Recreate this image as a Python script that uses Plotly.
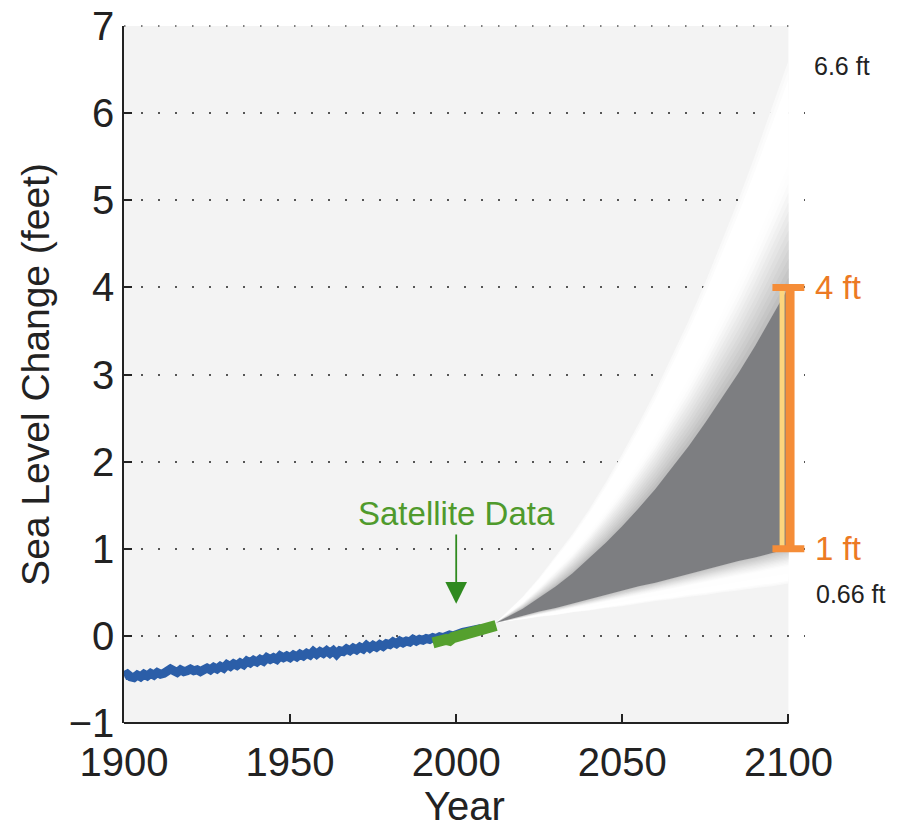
import numpy as np
import plotly.graph_objects as go

# ---------------- data ----------------
tide_years = list(range(1900, 2011))
tide_level = [
    -0.46, -0.44, -0.47, -0.48, -0.45, -0.47, -0.44, -0.46, -0.43, -0.45,
    -0.42, -0.44, -0.43, -0.41, -0.38, -0.40, -0.42, -0.39, -0.41, -0.40,
    -0.38, -0.40, -0.39, -0.41, -0.38, -0.37, -0.39, -0.36, -0.38, -0.35,
    -0.37, -0.33, -0.35, -0.32, -0.34, -0.31, -0.33, -0.29, -0.31, -0.28,
    -0.30, -0.27, -0.29, -0.25, -0.27, -0.25, -0.27, -0.23, -0.25, -0.23,
    -0.25, -0.22, -0.24, -0.21, -0.23, -0.20, -0.22, -0.18, -0.21, -0.18,
    -0.20, -0.17, -0.20, -0.17, -0.21, -0.17, -0.18, -0.15, -0.17, -0.14,
    -0.16, -0.13, -0.15, -0.11, -0.14, -0.11, -0.13, -0.10, -0.12, -0.09,
    -0.10, -0.07, -0.09, -0.06, -0.08, -0.06, -0.07, -0.04, -0.06, -0.04,
    -0.05, -0.03, -0.04, -0.02, -0.03, -0.01, -0.02, 0.00, 0.01, 0.00,
    0.02, 0.03, 0.04, 0.05, 0.06, 0.05, 0.07, 0.08, 0.07, 0.09, 0.10,
]

sat_years = list(range(1993, 2013))
sat_level = [
    -0.08, -0.06, -0.07, -0.05, -0.04, -0.05, -0.02, -0.01, -0.02, 0.01,
    0.02, 0.01, 0.04, 0.05, 0.04, 0.07, 0.06, 0.09, 0.10, 0.12,
]

proj_years = [2012, 2015, 2020, 2025, 2030, 2035, 2040, 2045, 2050, 2055,
              2060, 2065, 2070, 2075, 2080, 2085, 2090, 2095, 2100]
proj_highest = [0.15, 0.26, 0.45, 0.67, 0.92, 1.17, 1.45, 1.76, 2.09, 2.44,
                2.81, 3.21, 3.62, 4.06, 4.53, 5.01, 5.52, 6.05, 6.60]
proj_high = [0.15, 0.21, 0.31, 0.44, 0.57, 0.72, 0.89, 1.07, 1.26, 1.47,
             1.69, 1.93, 2.18, 2.45, 2.73, 3.02, 3.33, 3.66, 4.00]
proj_low = [0.15, 0.18, 0.23, 0.28, 0.32, 0.37, 0.42, 0.47, 0.52, 0.57,
            0.61, 0.66, 0.71, 0.76, 0.81, 0.86, 0.90, 0.95, 1.00]
proj_lowest = [0.15, 0.17, 0.19, 0.22, 0.24, 0.27, 0.29, 0.32, 0.34, 0.37,
               0.40, 0.42, 0.45, 0.47, 0.50, 0.52, 0.55, 0.57, 0.60]

range_year = 2100
range_bottom = 1.0
range_top = 4.0

x_ticks = [1900, 1950, 2000, 2050, 2100]
y_ticks = [-1, 0, 1, 2, 3, 4, 5, 6, 7]

# ---------------- styling ----------------
FONT = "Liberation Sans, Arial, Helvetica, sans-serif"
BG = "#f3f3f3"
DARK = "#7d7e81"
BLUE = "#2b5ea8"
GREEN = "#55a02e"
ORANGE = "#f58d38"
ORANGE_TXT = "#ec7a24"
YELLOW = "#fdd67e"
GRID_DASH = "1.5px,15.5px"

fig = go.Figure()

px = np.array(proj_years, dtype=float)
hi_top = np.array(proj_highest)
hi_in = np.array(proj_high)
lo_in = np.array(proj_low)
lo_bot = np.array(proj_lowest)


def lerp_color(stops, a):
    for (a0, c0), (a1, c1) in zip(stops[:-1], stops[1:]):
        if a0 <= a <= a1:
            f = 0 if a1 == a0 else (a - a0) / (a1 - a0)
            c = [round(c0[i] + f * (c1[i] - c0[i])) for i in range(3)]
            return "rgb(%d,%d,%d)" % tuple(c)
    c = stops[-1][1]
    return "rgb(%d,%d,%d)" % tuple(c)


upper_stops = [(0.0, (188, 188, 188)), (0.10, (204, 204, 204)), (0.22, (222, 222, 222)),
               (0.34, (238, 238, 238)), (0.45, (252, 252, 252)), (0.55, (255, 255, 255)),
               (0.9, (255, 255, 255)), (1.0, (247, 247, 247))]
lower_stops = [(0.0, (196, 196, 196)), (0.15, (214, 214, 214)), (0.35, (240, 240, 240)),
               (0.5, (254, 254, 254)), (0.9, (255, 255, 255)), (1.0, (248, 248, 248))]

N = 24
# upper gradient fan: nested regions from inner edge out to alpha_k
for k in range(N, 0, -1):
    a = k / N
    edge = hi_in + a * (hi_top - hi_in)
    fig.add_trace(go.Scatter(
        x=np.concatenate([px, px[::-1]]),
        y=np.concatenate([hi_in, edge[::-1]]),
        fill="toself", fillcolor=lerp_color(upper_stops, a - 0.5 / N),
        line=dict(width=0), mode="lines", hoverinfo="skip", showlegend=False))

# lower gradient fan
for k in range(N, 0, -1):
    a = k / N
    edge = lo_in + a * (lo_bot - lo_in)
    fig.add_trace(go.Scatter(
        x=np.concatenate([px, px[::-1]]),
        y=np.concatenate([lo_in, edge[::-1]]),
        fill="toself", fillcolor=lerp_color(lower_stops, a - 0.5 / N),
        line=dict(width=0), mode="lines", hoverinfo="skip", showlegend=False))

# likely range (dark)
fig.add_trace(go.Scatter(
    x=np.concatenate([px, px[::-1]]),
    y=np.concatenate([lo_in, hi_in[::-1]]),
    fill="toself", fillcolor=DARK, line=dict(width=0, color=DARK),
    mode="lines", hoverinfo="skip", showlegend=False))

# observations
fig.add_trace(go.Scatter(x=tide_years, y=tide_level, mode="lines",
                         line=dict(color=BLUE, width=9), showlegend=False))
fig.add_trace(go.Scatter(x=sat_years, y=sat_level, mode="lines",
                         line=dict(color=GREEN, width=11), showlegend=False))

# orange range bar
fig.add_trace(go.Scatter(x=[range_year - 1.9, range_year - 1.9], y=[range_bottom, range_top],
                         mode="lines", line=dict(color=YELLOW, width=5),
                         hoverinfo="skip", showlegend=False))
fig.add_trace(go.Scatter(x=[range_year + 0.5, range_year + 0.5], y=[range_bottom, range_top],
                         mode="lines", line=dict(color=ORANGE, width=9),
                         hoverinfo="skip", showlegend=False))
for yv in (range_bottom, range_top):
    fig.add_trace(go.Scatter(x=[range_year - 4.8, range_year + 4.8], y=[yv, yv],
                             mode="lines", line=dict(color=ORANGE, width=7),
                             hoverinfo="skip", showlegend=False))

shapes = [
    # white area right of 2100 (hides gridlines there)
    dict(type="rect", xref="x", yref="paper", x0=range_year, x1=2106, y0=0, y1=1,
         fillcolor="white", line=dict(width=0), layer="below"),
    # dotted line along the top of the plot (y = 7)
    dict(type="line", xref="x", yref="paper", x0=1900, x1=2100, y0=1, y1=1,
         line=dict(color="#555", width=1.5, dash=GRID_DASH), layer="below"),
    # bottom axis line ending at 2100
    dict(type="line", xref="x", yref="paper", x0=1900, x1=2100, y0=0, y1=0,
         line=dict(color="#222", width=2), layer="above"),
]

annotations = [
    dict(x=2000, y=1.41, xref="x", yref="y", text="Satellite Data", showarrow=False,
         font=dict(family=FONT, size=33, color="#4f9a2c")),
    dict(x=2000, y=0.37, xref="x", yref="y", ax=2000, ay=1.18, axref="x", ayref="y",
         text="", showarrow=True, arrowhead=2, arrowsize=2.4, arrowwidth=1.8,
         arrowcolor="#2f8a1f"),
    dict(x=range_year, y=range_top, xref="x", yref="y", text="4 ft", showarrow=False,
         xanchor="left", xshift=25, font=dict(family=FONT, size=33, color=ORANGE_TXT)),
    dict(x=range_year, y=range_bottom, xref="x", yref="y", text="1 ft", showarrow=False,
         xanchor="left", xshift=25, font=dict(family=FONT, size=33, color=ORANGE_TXT)),
    dict(x=range_year, y=proj_highest[-1], xref="x", yref="y", text="6.6 ft", showarrow=False,
         xanchor="left", xshift=24, yshift=-5, font=dict(family=FONT, size=25, color="#222")),
    dict(x=range_year, y=proj_lowest[-1], xref="x", yref="y", text="0.66 ft", showarrow=False,
         xanchor="left", xshift=26, yshift=-10, font=dict(family=FONT, size=25, color="#222")),
]

fig.update_layout(
    width=901, height=831, autosize=False,
    margin=dict(l=124, r=96, t=26, b=108, pad=0, autoexpand=False),
    paper_bgcolor="white", plot_bgcolor=BG,
    font=dict(family=FONT, color="#222"),
    shapes=shapes, annotations=annotations, showlegend=False,
    xaxis=dict(range=[1900, 2105], tickvals=x_ticks, ticks="inside", ticklen=9,
               tickwidth=1.5, tickcolor="#222", showline=False, showgrid=False,
               zeroline=False, automargin=False, ticklabelstandoff=12,
               tickfont=dict(size=40, family=FONT, color="#222"),
               title=dict(text="Year", font=dict(size=40, family=FONT, color="#222"),
                          standoff=6)),
    yaxis=dict(range=[-1, 7], tickvals=y_ticks, ticks="inside", ticklen=8,
               tickwidth=1.5, tickcolor="#222", showline=True, linecolor="#222",
               linewidth=1.5, showgrid=True, gridcolor="#555", gridwidth=1.5,
               griddash=GRID_DASH, zeroline=False, automargin=False,
               tickfont=dict(size=40, family=FONT, color="#222"),
               title=dict(text="Sea Level Change (feet)",
                          font=dict(size=39, family=FONT, color="#222"), standoff=7)),
)

fig.write_html("out.html", config={"displayModeBar": False},
               post_script="document.body.style.margin='0';document.body.style.overflow='hidden';")
